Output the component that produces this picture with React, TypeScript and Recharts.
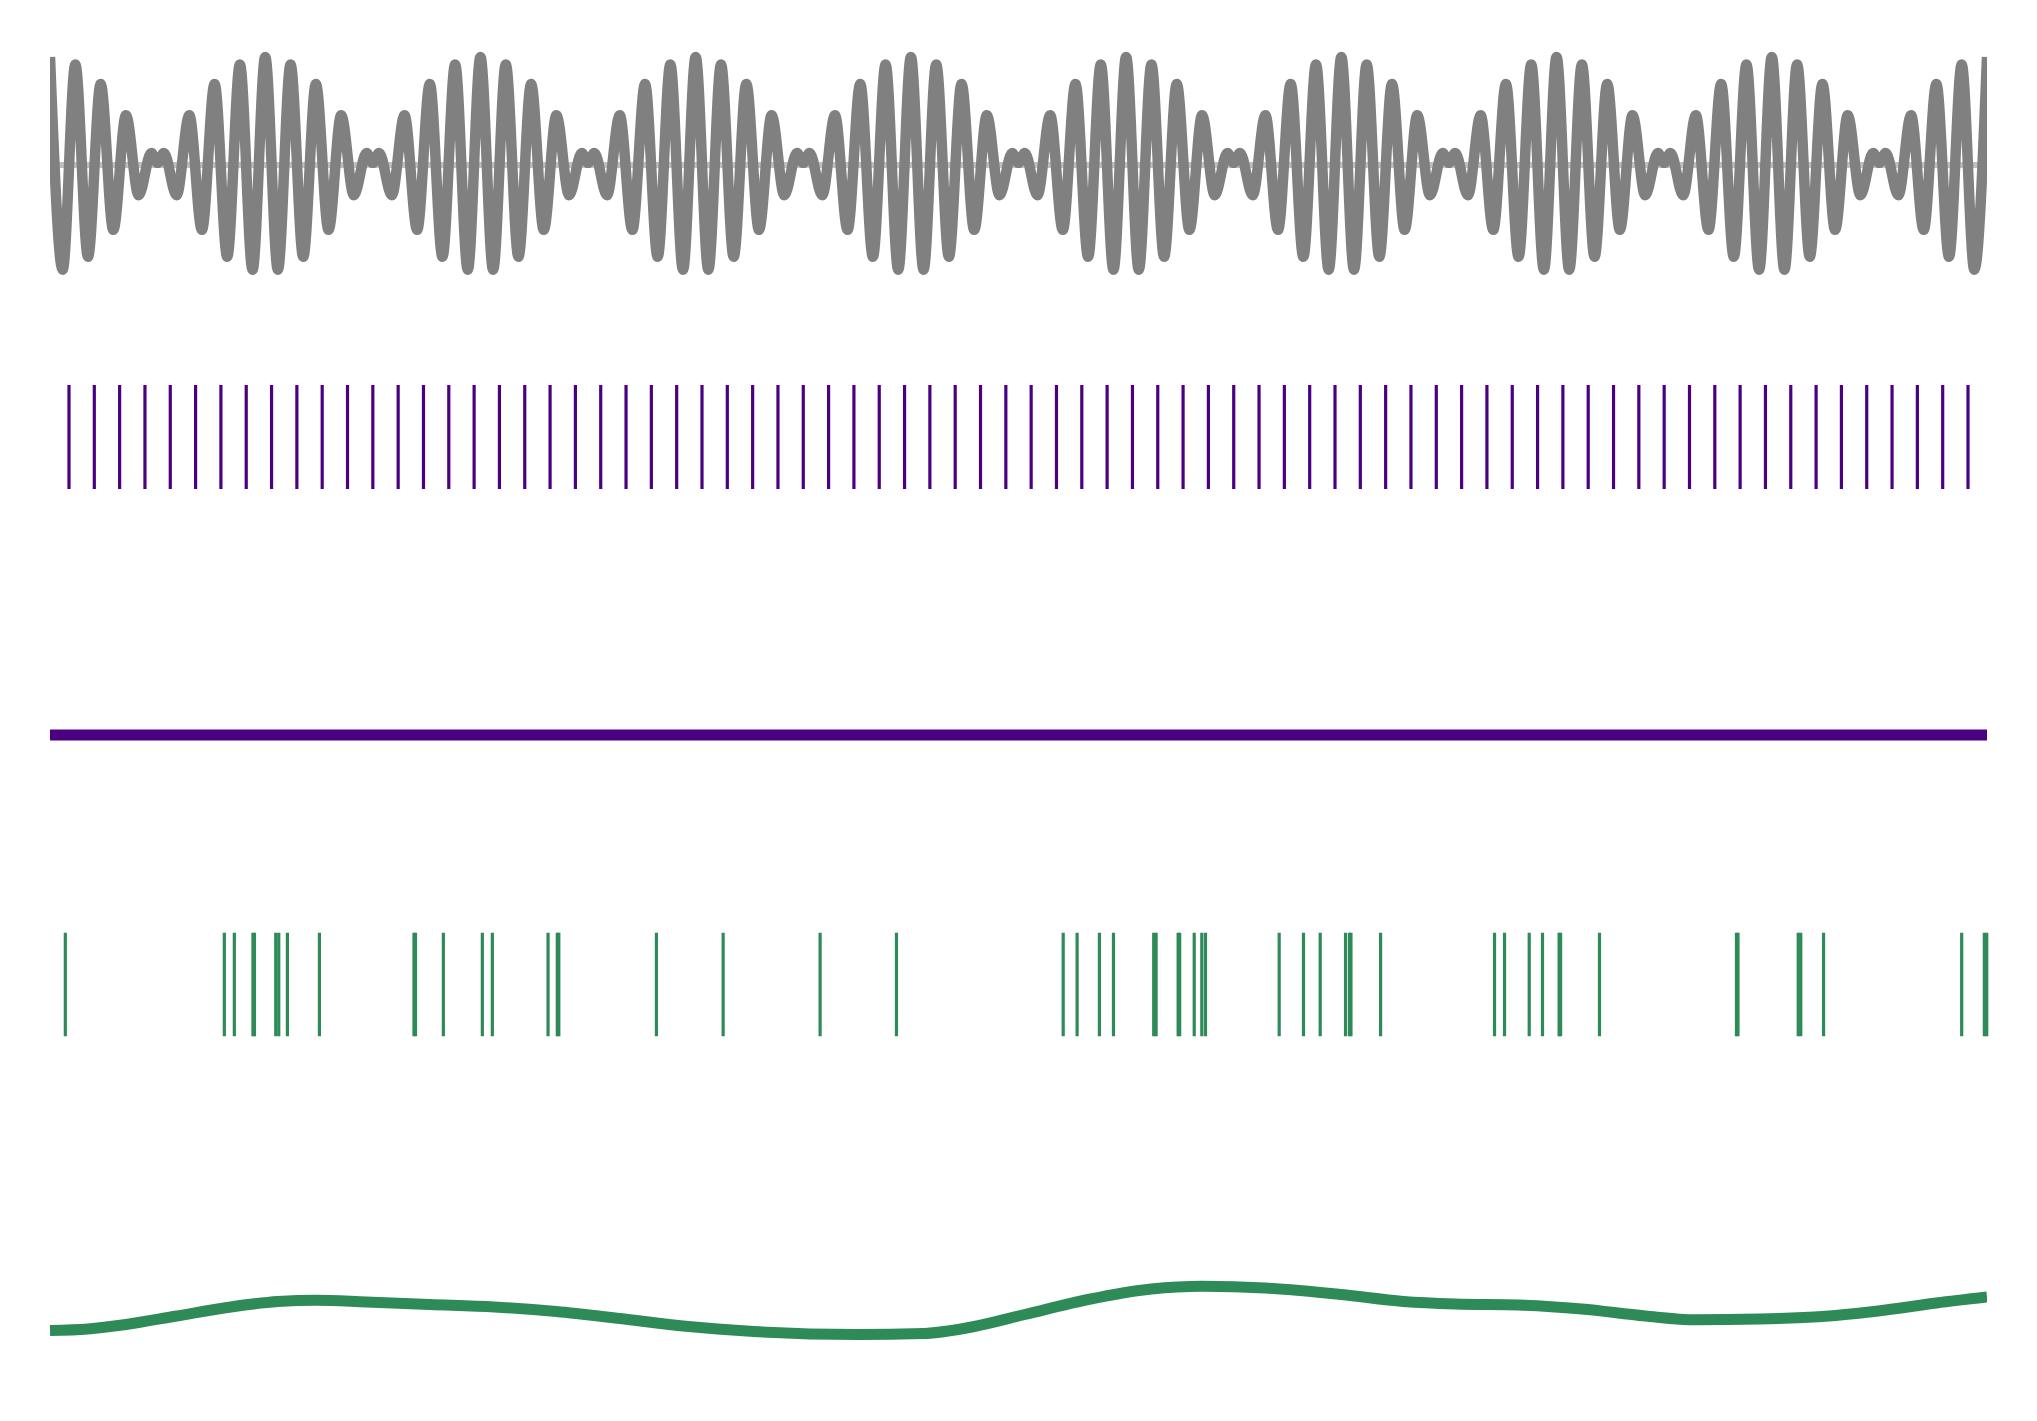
import React from 'react';
import { ComposedChart, Line, XAxis, YAxis, ReferenceLine } from 'recharts';

// ---------- data (time in ms) ----------
const timeDomain: [number, number] = [0, 1530];

// beat signal: extrema [time, value]
const beatSignal: [number, number][] = [
  [0, 1], [10, -0.97], [20, 0.93], [30, -0.85], [40, 0.75], [50, -0.6], [60, 0.46], [70, -0.28], [80, 0.11], [85, 0.02], [90, 0.11], [100, -0.28], [110, 0.46], [120, -0.6], [130, 0.75], [140, -0.85], [150, 0.93], [160, -0.97],
  [170, 1], [180, -0.97], [190, 0.93], [200, -0.85], [210, 0.75], [220, -0.6], [230, 0.46], [240, -0.28], [250, 0.11], [255, 0.02], [260, 0.11], [270, -0.28], [280, 0.46], [290, -0.6], [300, 0.75], [310, -0.85], [320, 0.93], [330, -0.97],
  [340, 1], [350, -0.97], [360, 0.93], [370, -0.85], [380, 0.75], [390, -0.6], [400, 0.46], [410, -0.28], [420, 0.11], [425, 0.02], [430, 0.11], [440, -0.28], [450, 0.46], [460, -0.6], [470, 0.75], [480, -0.85], [490, 0.93], [500, -0.97],
  [510, 1], [520, -0.97], [530, 0.93], [540, -0.85], [550, 0.75], [560, -0.6], [570, 0.46], [580, -0.28], [590, 0.11], [595, 0.02], [600, 0.11], [610, -0.28], [620, 0.46], [630, -0.6], [640, 0.75], [650, -0.85], [660, 0.93], [670, -0.97],
  [680, 1], [690, -0.97], [700, 0.93], [710, -0.85], [720, 0.75], [730, -0.6], [740, 0.46], [750, -0.28], [760, 0.11], [765, 0.02], [770, 0.11], [780, -0.28], [790, 0.46], [800, -0.6], [810, 0.75], [820, -0.85], [830, 0.93], [840, -0.97],
  [850, 1], [860, -0.97], [870, 0.93], [880, -0.85], [890, 0.75], [900, -0.6], [910, 0.46], [920, -0.28], [930, 0.11], [935, 0.02], [940, 0.11], [950, -0.28], [960, 0.46], [970, -0.6], [980, 0.75], [990, -0.85], [1000, 0.93], [1010, -0.97],
  [1020, 1], [1030, -0.97], [1040, 0.93], [1050, -0.85], [1060, 0.75], [1070, -0.6], [1080, 0.46], [1090, -0.28], [1100, 0.11], [1105, 0.02], [1110, 0.11], [1120, -0.28], [1130, 0.46], [1140, -0.6], [1150, 0.75], [1160, -0.85], [1170, 0.93], [1180, -0.97],
  [1190, 1], [1200, -0.97], [1210, 0.93], [1220, -0.85], [1230, 0.75], [1240, -0.6], [1250, 0.46], [1260, -0.28], [1270, 0.11], [1275, 0.02], [1280, 0.11], [1290, -0.28], [1300, 0.46], [1310, -0.6], [1320, 0.75], [1330, -0.85], [1340, 0.93], [1350, -0.97],
  [1360, 1], [1370, -0.97], [1380, 0.93], [1390, -0.85], [1400, 0.75], [1410, -0.6], [1420, 0.46], [1430, -0.28], [1440, 0.11], [1445, 0.02], [1450, 0.11], [1460, -0.28], [1470, 0.46], [1480, -0.6], [1490, 0.75], [1500, -0.85], [1510, 0.93], [1520, -0.97],
  [1530, 1],
];

// regular (phase-locked) spike times
const regularSpikes: number[] = [
  15, 35, 55, 75, 95, 115, 135, 155, 175, 195, 215, 235, 255, 275, 295, 315, 335, 355, 375, 395,
  415, 435, 455, 475, 495, 515, 535, 555, 575, 595, 615, 635, 655, 675, 695, 715, 735, 755, 775, 795,
  815, 835, 855, 875, 895, 915, 935, 955, 975, 995, 1015, 1035, 1055, 1075, 1095, 1115, 1135, 1155, 1175, 1195,
  1215, 1235, 1255, 1275, 1295, 1315, 1335, 1355, 1375, 1395, 1415, 1435, 1455, 1475, 1495, 1515,
];

// regular train rate (Hz)
const regularRate: [number, number][] = [[0, 50], [765, 50], [1530, 50]];

// irregular spike times
const irregularSpikes: number[] = [
  12.1, 137.7, 145.6, 160.3, 161.5, 178.3, 180.7, 187.5, 212.8, 287.5, 288.7, 310.7, 341.5, 349.4,
  393.4, 400.7, 401.9, 479.0, 531.7, 608.3, 668.6, 800.3, 811.3, 828.9, 840.0, 871.8, 873.7,
  891.1, 892.3, 903.8, 909.8, 912.7, 970.9, 990.1, 1003.3, 1023.3, 1026.4, 1027.6, 1051.0,
  1141.0, 1148.9, 1168.4, 1178.9, 1192.0, 1193.2, 1223.9, 1332.1, 1333.3, 1380.9, 1382.9,
  1400.9, 1510.0, 1527.9, 1529.8,
];

// irregular train smoothed rate (Hz)
const irregularRate: [number, number][] = [
  [0, 23.0], [30, 23.6], [60, 25.4], [100, 28.8], [140, 32.2], [180, 34.6], [210, 35.1], [250, 34.4],
  [300, 33.4], [351, 32.4], [400, 30.6], [450, 27.8], [500, 24.8], [556, 22.6], [638, 21.4],
  [690, 21.8], [730, 24.6], [770, 29.4], [820, 35.4], [870, 39.6], [910, 40.7], [960, 40.0],
  [1020, 37.4], [1069, 34.6], [1110, 33.6], [1160, 33.2], [1210, 31.6], [1260, 28.8], [1300, 27.3],
  [1350, 27.6], [1400, 28.6], [1450, 31.2], [1490, 34.0], [1530, 36.4],
];

// ---------- styles ----------
const WIDTH = 2037;
const MARGIN = { top: 0, right: 50, bottom: 0, left: 50 };
const GRAY = '#808080';
const PURPLE = '#4b0082';
const GREEN = '#2e8b57';

const rowStyle = (top: number): React.CSSProperties => ({ position: 'absolute', left: 0, top });

function SignalRow() {
  const data = beatSignal.map(([t, v]) => ({ t, v }));
  return (
    <div style={rowStyle(0)}>
      <ComposedChart width={WIDTH} height={330} data={data} margin={MARGIN}>
        <XAxis type="number" dataKey="t" domain={timeDomain} hide allowDataOverflow />
        <YAxis type="number" domain={[-1.528, 1.528]} hide allowDataOverflow />
        <ReferenceLine y={0} stroke="#c0c0c0" strokeWidth={6} />
        <Line type="monotone" dataKey="v" stroke={GRAY} strokeWidth={10.5} dot={false} activeDot={false} isAnimationActive={false} strokeLinejoin="round" />
      </ComposedChart>
    </div>
  );
}

function RasterRow({ top, height, spikes, color }: { top: number; height: number; spikes: number[]; color: string }) {
  const data = spikes.map((t) => ({ t, y: 0.5 }));
  return (
    <div style={rowStyle(top)}>
      <ComposedChart width={WIDTH} height={height} data={data} margin={MARGIN}>
        <XAxis type="number" dataKey="t" domain={timeDomain} hide allowDataOverflow />
        <YAxis type="number" domain={[-0.5, 1.5]} hide allowDataOverflow />
        {spikes.map((t, i) => (
          <ReferenceLine
            key={i}
            segment={[{ x: t, y: 0 }, { x: t, y: 1 }]}
            stroke={color}
            strokeWidth={3.2}
            ifOverflow="visible"
          />
        ))}
      </ComposedChart>
    </div>
  );
}

function RateRow({ top, rate, color, domain }: { top: number; rate: [number, number][]; color: string; domain: [number, number] }) {
  const data = rate.map(([t, r]) => ({ t, r }));
  return (
    <div style={rowStyle(top)}>
      <ComposedChart width={WIDTH} height={200} data={data} margin={MARGIN}>
        <XAxis type="number" dataKey="t" domain={timeDomain} hide allowDataOverflow />
        <YAxis type="number" domain={domain} hide allowDataOverflow />
        <Line type="monotone" dataKey="r" stroke={color} strokeWidth={11} dot={false} activeDot={false} isAnimationActive={false} />
      </ComposedChart>
    </div>
  );
}

export default function App() {
  return (
    <div style={{ position: 'absolute', left: 0, top: 0, width: WIDTH, height: 1421, background: '#ffffff', overflow: 'hidden' }}>
      <SignalRow />
      <RasterRow top={333} height={208} spikes={regularSpikes} color={PURPLE} />
      <RateRow top={634.5} rate={regularRate} color={PURPLE} domain={[0, 100]} />
      <RasterRow top={880.75} height={207} spikes={irregularSpikes} color={GREEN} />
      <RateRow top={1187.5} rate={irregularRate} color={GREEN} domain={[0, 80]} />
    </div>
  );
}
